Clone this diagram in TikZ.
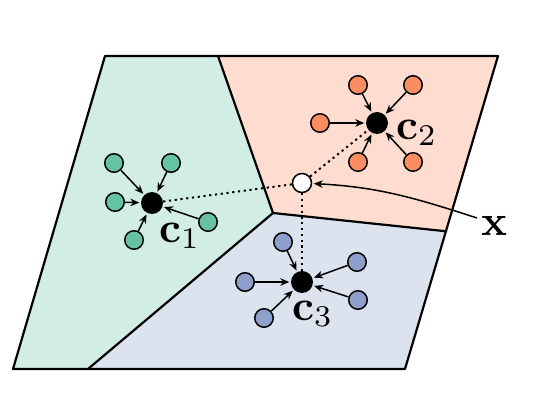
\documentclass[tikz,border=0pt]{standalone}
\usepackage{graphicx}
\usetikzlibrary{arrows.meta,calc}
\definecolor{sgreen}{RGB}{102,194,165}
\definecolor{sorange}{RGB}{252,141,98}
\definecolor{sblue}{RGB}{141,160,203}
\begin{document}
\begin{tikzpicture}[x=1pt,y=-1pt,
 sat/.style={circle, draw=black, line width=1.5pt, minimum size=18.5pt, inner sep=0pt},
 ctr/.style={circle, fill=black, minimum size=22pt, inner sep=0pt},
 pt/.style={circle, draw=black, fill=white, line width=1.5pt, minimum size=19pt, inner sep=0pt},
 arr/.style={-{Stealth[length=9pt,width=7.5pt]}, line width=1.5pt, shorten >=1.5pt},
 dots/.style={line width=2pt, dash pattern=on 2.2pt off 3.6pt},
 region/.style={draw=black, line width=2.2pt, line join=round},
 lab/.style={inner sep=0pt, anchor=base west}
]
\useasboundingbox (0,0) rectangle (550,407);
% corners
\coordinate (TL) at (105,56);
\coordinate (TM) at (218,56);
\coordinate (TR) at (498,56);
\coordinate (BR) at (405,369);
\coordinate (BM) at (88,369);
\coordinate (BL) at (13,369);
\coordinate (J) at (273,213);
\coordinate (E) at ($(TR)!0.56!(BR)$);
% regions
\fill[sgreen!30] (TL) -- (TM) -- (J) -- (BM) -- (BL) -- cycle;
\fill[sorange!30] (TM) -- (TR) -- (E) -- (J) -- cycle;
\fill[sblue!30] (J) -- (E) -- (BR) -- (BM) -- cycle;
\draw[region] (TL) -- (TR) -- (BR) -- (BL) -- cycle;
\draw[region] (TM) -- (J) -- (BM);
\draw[region] (J) -- (E);
% centers and query point
\node[ctr] (c1) at (152,203) {};
\node[ctr] (c2) at (377,123) {};
\node[ctr] (c3) at (302,282) {};
\node[pt] (X) at (302,183) {};
% satellites c1
\node[sat, fill=sgreen] (g1) at (114,163) {};
\node[sat, fill=sgreen] (g2) at (171,163) {};
\node[sat, fill=sgreen] (g3) at (115,202) {};
\node[sat, fill=sgreen] (g4) at (208,222) {};
\node[sat, fill=sgreen] (g5) at (134,240) {};
% satellites c2
\node[sat, fill=sorange] (o1) at (358,85) {};
\node[sat, fill=sorange] (o2) at (413,85) {};
\node[sat, fill=sorange] (o3) at (320,123) {};
\node[sat, fill=sorange] (o4) at (358,162) {};
\node[sat, fill=sorange] (o5) at (413,162) {};
% satellites c3
\node[sat, fill=sblue] (b1) at (283,242) {};
\node[sat, fill=sblue] (b2) at (245,282) {};
\node[sat, fill=sblue] (b3) at (264,318) {};
\node[sat, fill=sblue] (b4) at (357,262) {};
\node[sat, fill=sblue] (b5) at (358,300) {};
% arrows
\foreach \s in {g1,g2,g3,g4,g5} \draw[arr] (\s) -- (c1);
\foreach \s in {o1,o2,o3,o4,o5} \draw[arr] (\s) -- (c2);
\foreach \s in {b1,b2,b3,b4,b5} \draw[arr] (\s) -- (c3);
% dotted lines
\draw[dots] (X) -- (c1);
\draw[dots] (X) -- (c2);
\draw[dots] (X) -- (c3);
% labels
\node[lab] (l1) at (159,242) {\scalebox{4.3}{$\mathbf{c}_1$}};
\node[lab] (l2) at (396,139) {\scalebox{4.3}{$\mathbf{c}_2$}};
\node[lab] (l3) at (292,320) {\scalebox{4.3}{$\mathbf{c}_3$}};
\node[lab] (xl) at (481,235) {\scalebox{4.3}{$\mathbf{x}$}};
\coordinate (xs) at (477,218);
\draw[arr] (xs) to[out=162,in=-3] (X);
\end{tikzpicture}
\end{document}
